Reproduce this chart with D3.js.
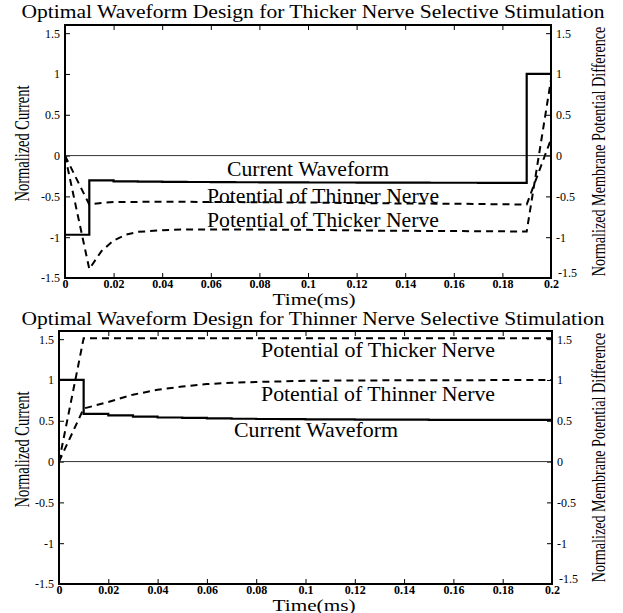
<!DOCTYPE html>
<html>
<head>
<meta charset="utf-8">
<script src="https://d3js.org/d3.v7.min.js"></script>
<style>
  body { margin: 0; background: #fff; }
  svg { display: block; }
  text { font-family: "Liberation Serif", "Times New Roman", serif; fill: #000; }
  .xt text { font-size: 12px; font-weight: bold; font-family: "Liberation Serif", serif; }
  .yt text { font-size: 12px; font-family: "Liberation Serif", serif; }
  .tick line { stroke: #000; stroke-width: 1; }
</style>
</head>
<body>
<div id="chart"></div>
<script>
// time axis (ms)
var timeTicks = [0, 0.02, 0.04, 0.06, 0.08, 0.1, 0.12, 0.14, 0.16, 0.18, 0.2];
var yTicks = [-1.5, -1, -0.5, 0, 0.5, 1, 1.5];

// current steps, one value per 0.01 ms slot
var stepTimes = [0, 0.01, 0.02, 0.03, 0.04, 0.05, 0.06, 0.07, 0.08, 0.09, 0.1,
                 0.11, 0.12, 0.13, 0.14, 0.15, 0.16, 0.17, 0.18, 0.19, 0.2];

// panel 1 : thicker nerve selective
var currentThick = [-0.97, -0.305, -0.315, -0.32, -0.322, -0.324, -0.326, -0.327, -0.328, -0.329,
                    -0.33, -0.33, -0.331, -0.332, -0.332, -0.333, -0.333, -0.334, -0.334, 1.0, 1.0];
var thinT1 = [0, 0.01, 0.015, 0.02, 0.04, 0.07, 0.1, 0.13, 0.16, 0.19, 0.2];
var thinV1 = [0, -0.6, -0.58, -0.57, -0.565, -0.57, -0.575, -0.585, -0.59, -0.6, 0.2];
var thickT1 = [0, 0.01, 0.015, 0.02, 0.025, 0.03, 0.04, 0.05, 0.07, 0.1, 0.13, 0.16, 0.19, 0.2];
var thickV1 = [0, -1.39, -1.17, -1.04, -0.97, -0.935, -0.915, -0.905, -0.905, -0.91, -0.92, -0.925, -0.93, 0.93];

// panel 2 : thinner nerve selective
var currentThin = [1.0, 0.585, 0.565, 0.55, 0.54, 0.535, 0.53, 0.525, 0.522, 0.52,
                   0.518, 0.516, 0.515, 0.514, 0.513, 0.512, 0.511, 0.51, 0.51, 0.51, 0.51];
var thickT2 = [0, 0.01, 0.2];
var thickV2 = [0, 1.51, 1.51];
var thinT2 = [0, 0.01, 0.02, 0.03, 0.04, 0.05, 0.06, 0.07, 0.08, 0.1, 0.13, 0.2];
var thinV2 = [0, 0.65, 0.73, 0.82, 0.88, 0.92, 0.95, 0.965, 0.975, 0.99, 0.995, 1.0];

var W = 623, H = 613;
var svg = d3.select("#chart").append("svg").attr("width", W).attr("height", H);

function zip(ts, vs) { return ts.map(function (t, i) { return [t, vs[i]]; }); }
function fmt(v) { return String(+v.toFixed(2)); }

// rotated, horizontally squeezed label (condensed look of the original)
function vlabel(g, str, bx, cy, size, len) {
    var t = g.append("text").attr("text-anchor", "middle").style("font-size", size + "px").text(str);
    var sx = len / t.node().getComputedTextLength();
    t.attr("transform", "translate(" + bx + "," + cy + ") rotate(-90) scale(" + sx + ",1)");
}

function panel(p) {
    var x = d3.scaleLinear().domain([0, 0.2]).range([p.left, p.right]);
    var y = d3.scaleLinear().domain([-1.5, 1.6]).range([p.bottom, p.top]);
    var g = svg.append("g");

    // title
    g.append("text").attr("x", 313).attr("y", p.titleY)
        .attr("text-anchor", "middle").style("font-size", "19px")
        .attr("textLength", 583).attr("lengthAdjust", "spacingAndGlyphs")
        .text(p.title);

    // axes (ticks point inwards, frame drawn separately)
    g.append("g").attr("class", "xt").attr("transform", "translate(0," + p.bottom + ")")
        .call(d3.axisBottom(x).tickValues(timeTicks).tickFormat(fmt).tickSize(-5).tickPadding(1))
        .call(function (a) { a.select(".domain").remove(); });
    g.append("g").attr("transform", "translate(0," + p.top + ")")
        .call(d3.axisTop(x).tickValues(timeTicks).tickFormat("").tickSize(-5))
        .call(function (a) { a.select(".domain").remove(); });
    g.append("g").attr("class", "yt").attr("transform", "translate(" + p.left + ",0)")
        .call(d3.axisLeft(y).tickValues(yTicks).tickFormat(fmt).tickSize(-5).tickPadding(5))
        .call(function (a) { a.select(".domain").remove(); });
    var ry = g.append("g").attr("class", "yt").attr("transform", "translate(" + p.right + ",0)")
        .call(d3.axisRight(y).tickValues(yTicks).tickFormat(fmt).tickSize(-5).tickPadding(5))
        .call(function (a) { a.select(".domain").remove(); });
    // lowest right label sits a little higher, clear of the "0.2"
    ry.selectAll(".tick text").filter(function (d) { return d === -1.5; })
        .attr("x", 7).attr("dy", "-0.1em");

    // zero line
    g.append("line").attr("x1", x(0)).attr("x2", x(0.2)).attr("y1", y(0)).attr("y2", y(0))
        .attr("stroke", "#333").attr("stroke-width", 1);

    var line = d3.line().x(function (d) { return x(d[0]); }).y(function (d) { return y(d[1]); });
    var step = d3.line().curve(d3.curveStepAfter)
        .x(function (d) { return x(d[0]); }).y(function (d) { return y(d[1]); });

    g.append("path").datum(zip(stepTimes, p.current)).attr("d", step)
        .attr("fill", "none").attr("stroke", "#000").attr("stroke-width", 2.2);
    p.dashed.forEach(function (s) {
        g.append("path").datum(zip(s[0], s[1])).attr("d", line)
            .attr("fill", "none").attr("stroke", "#000").attr("stroke-width", 2)
            .attr("stroke-dasharray", "7,5");
    });

    // frame
    g.append("rect").attr("x", p.left).attr("y", p.top)
        .attr("width", p.right - p.left).attr("height", p.bottom - p.top)
        .attr("fill", "none").attr("stroke", "#000").attr("stroke-width", 2);

    // in-plot labels
    p.labels.forEach(function (l) {
        g.append("text").attr("x", l.x).attr("y", l.y).attr("text-anchor", "middle")
            .style("font-size", "21px").attr("textLength", l.w).attr("lengthAdjust", "spacingAndGlyphs")
            .text(l.text);
    });

    // axis titles
    g.append("text").attr("x", 314).attr("y", p.bottom + 27).attr("text-anchor", "middle")
        .style("font-size", "16px").attr("textLength", 83).attr("lengthAdjust", "spacingAndGlyphs")
        .text("Time(ms)");
    var cy = (p.top + p.bottom) / 2;
    vlabel(g, "Normalized Current", 29, cy - 8, 20, 116);
    vlabel(g, "Normalized Membrane Potential Difference", 605, cy, 19, 250);
}

panel({
    left: 65, right: 551, top: 25, bottom: 278, titleY: 18,
    title: "Optimal Waveform Design for Thicker Nerve Selective Stimulation",
    current: currentThick,
    dashed: [[thinT1, thinV1], [thickT1, thickV1]],
    labels: [
        { text: "Current Waveform", x: 308, y: 176, w: 162 },
        { text: "Potential of Thinner Nerve", x: 323, y: 203, w: 232 },
        { text: "Potential of Thicker Nerve", x: 323, y: 227, w: 232 }
    ]
});

panel({
    left: 59, right: 552, top: 331, bottom: 584, titleY: 325,
    title: "Optimal Waveform Design for Thinner Nerve Selective Stimulation",
    current: currentThin,
    dashed: [[thickT2, thickV2], [thinT2, thinV2]],
    labels: [
        { text: "Potential of Thicker Nerve", x: 378, y: 357, w: 234 },
        { text: "Potential of Thinner Nerve", x: 378, y: 401, w: 234 },
        { text: "Current Waveform", x: 316, y: 437, w: 164 }
    ]
});
</script>
</body>
</html>
